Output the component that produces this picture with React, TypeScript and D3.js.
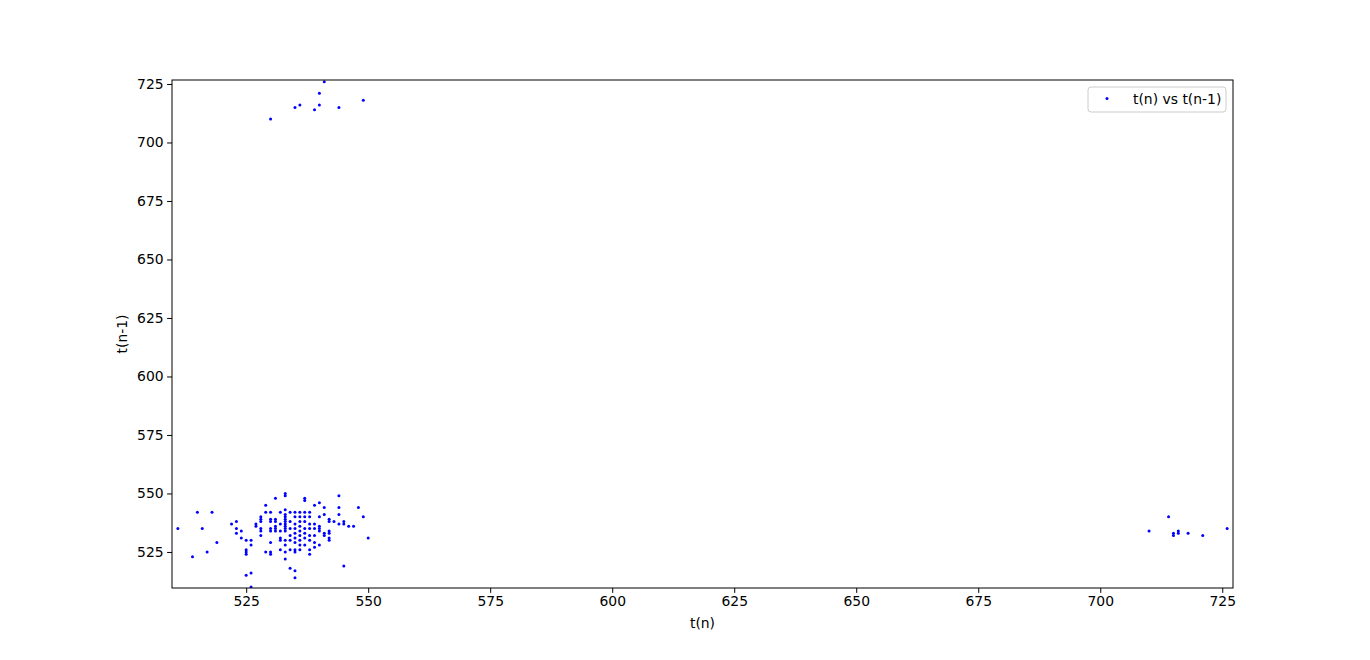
import React, { useEffect, useRef } from 'react';
import * as d3 from 'd3';

// t(n) values (x) and t(n-1) values (y)
const mainCluster: [number, number][] = [
  [511, 535], [515, 542], [518, 542], [516, 535], [514, 523], [517, 525], [519, 529],
  [522, 537], [523, 538], [523, 535], [523, 533], [524, 534], [524, 531], [525, 530], [526, 530], [526, 528],
  [525, 526], [525, 525], [525, 524], [525, 515], [526, 516], [526, 510],
  [527, 537], [527, 536], [528, 540], [528, 539], [528, 538], [528, 535], [528, 534], [528, 532],
  [529, 545], [529, 542], [529, 525],
  [530, 542], [530, 539], [530, 538], [530, 535], [530, 534], [530, 529], [530, 525], [530, 524],
  [531, 548], [531, 539], [531, 538], [531, 536], [531, 535], [531, 534],
  [532, 542], [532, 537], [532, 534], [532, 531], [532, 530], [532, 526],
  [533, 550], [533, 549], [533, 543], [533, 541], [533, 540], [533, 539], [533, 538], [533, 537],
  [533, 536], [533, 535], [533, 534], [533, 530], [533, 528], [533, 525], [533, 522],
  [534, 542], [534, 538], [534, 535], [534, 532], [534, 530], [534, 526], [534, 518],
  [535, 542], [535, 540], [535, 537], [535, 535], [535, 533], [535, 531], [535, 529], [535, 526],
  [535, 525], [535, 517], [535, 514],
  [536, 542], [536, 540], [536, 538], [536, 536], [536, 534], [536, 532], [536, 530], [536, 528], [536, 526],
  [537, 548], [537, 547], [537, 542], [537, 540], [537, 538], [537, 535], [537, 533], [537, 531], [537, 528],
  [538, 542], [538, 540], [538, 537], [538, 535], [538, 532], [538, 530], [538, 526], [538, 524],
  [539, 545], [539, 537], [539, 535], [539, 532], [539, 529], [539, 527],
  [540, 546], [540, 540], [540, 536], [540, 535], [540, 534], [540, 528],
  [541, 544], [541, 541], [541, 533], [541, 532],
  [542, 539], [542, 538], [542, 534], [542, 533], [542, 531], [542, 530],
  [543, 538],
  [544, 549], [544, 544], [544, 541], [544, 537],
  [545, 538], [545, 537], [545, 519],
  [546, 536], [547, 536],
  [548, 544], [549, 540], [550, 531],
];

const topCluster: [number, number][] = [
  [541, 726], [540, 721], [536, 716], [535, 715], [540, 716], [539, 714], [544, 715], [549, 718], [530, 710],
];

const rightCluster: [number, number][] = [
  [714, 540], [710, 534], [715, 533], [715, 532], [716, 534], [716, 533], [718, 533], [721, 532], [726, 535],
];

const xTicks = [525, 550, 575, 600, 625, 650, 675, 700, 725];
const yTicks = [525, 550, 575, 600, 625, 650, 675, 700, 725];

const W = 1370;
const H = 660;
const FONT = '"DejaVu Sans", sans-serif';

const App: React.FC = () => {
  const svgRef = useRef<SVGSVGElement>(null);

  useEffect(() => {
    if (!svgRef.current) return;
    const svg = d3.select(svgRef.current);
    svg.selectAll('*').remove();

    const left = 172, right = 1233, top = 80, bottom = 588;
    const x = d3.scaleLinear().domain([509.8, 727.2]).range([left, right]);
    const y = d3.scaleLinear().domain([509.6, 726.7]).range([bottom, top]);

    svg.append('rect').attr('width', W).attr('height', H).attr('fill', '#fff');

    svg.append('defs').append('clipPath').attr('id', 'plot-clip')
      .append('rect')
      .attr('x', left).attr('y', top)
      .attr('width', right - left).attr('height', bottom - top);

    // points
    const all = [...mainCluster, ...topCluster, ...rightCluster];
    svg.append('g').attr('clip-path', 'url(#plot-clip)')
      .selectAll('circle')
      .data(all)
      .join('circle')
      .attr('cx', d => x(d[0]))
      .attr('cy', d => y(d[1]))
      .attr('r', 1.5)
      .attr('fill', '#0000ff');

    // x axis
    const xg = svg.append('g').attr('transform', `translate(0,${bottom})`);
    xg.call(d3.axisBottom(x).tickValues(xTicks).tickSize(4.9).tickPadding(3.5).tickFormat(d3.format('d')));
    xg.select('.domain').remove();
    xg.selectAll('text').attr('font-family', FONT).attr('font-size', 13.9).attr('fill', '#000');
    xg.selectAll('line').attr('stroke', '#000').attr('stroke-width', 1);

    // y axis
    const yg = svg.append('g').attr('transform', `translate(${left},0)`);
    yg.call(d3.axisLeft(y).tickValues(yTicks).tickSize(4.9).tickPadding(3.5).tickFormat(d3.format('d')));
    yg.select('.domain').remove();
    yg.selectAll('text').attr('font-family', FONT).attr('font-size', 13.9).attr('fill', '#000');
    yg.selectAll('line').attr('stroke', '#000').attr('stroke-width', 1);

    // frame
    svg.append('rect')
      .attr('x', left).attr('y', top)
      .attr('width', right - left).attr('height', bottom - top)
      .attr('fill', 'none').attr('stroke', '#000').attr('stroke-width', 1);

    // axis labels
    svg.append('text')
      .attr('x', (left + right) / 2).attr('y', 628)
      .attr('text-anchor', 'middle')
      .attr('font-family', FONT).attr('font-size', 13.9)
      .text('t(n)');

    svg.append('text')
      .attr('transform', `translate(127,${(top + bottom) / 2}) rotate(-90)`)
      .attr('text-anchor', 'middle')
      .attr('font-family', FONT).attr('font-size', 13.9)
      .text('t(n-1)');

    // legend
    const lg = svg.append('g');
    lg.append('rect')
      .attr('x', 1088).attr('y', 87).attr('width', 138).attr('height', 25)
      .attr('rx', 3)
      .attr('fill', '#fff').attr('fill-opacity', 0.8)
      .attr('stroke', '#cccccc').attr('stroke-width', 1);
    lg.append('circle').attr('cx', 1107).attr('cy', 98.5).attr('r', 1.5).attr('fill', '#0000ff');
    lg.append('text')
      .attr('x', 1133).attr('y', 103.5)
      .attr('font-family', FONT).attr('font-size', 13.9)
      .text('t(n) vs t(n-1)');
  }, []);

  return (
    <svg
      ref={svgRef}
      width={W}
      height={H}
      style={{ position: 'absolute', left: 0, top: 0, display: 'block' }}
    />
  );
};

export default App;
